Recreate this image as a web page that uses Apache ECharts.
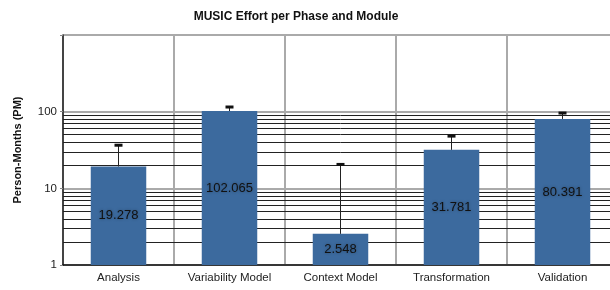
<!DOCTYPE html>
<html>
<head>
<meta charset="utf-8">
<script src="https://cdn.jsdelivr.net/npm/echarts@6/dist/echarts.min.js"></script>
<style>
  html, body { margin: 0; padding: 0; background: #fff; overflow: hidden; }
  #main { width: 618px; height: 290px; }
</style>
</head>
<body>
<div id="main"></div>
<script>
var categories = ["Analysis", "Variability Model", "Context Model", "Transformation", "Validation"];
var effort = [19.278, 102.065, 2.548, 31.781, 80.391];
var errorUpper = [36.5, 115, 20.5, 48, 96];
var minorGrid = [2, 3, 4, 5, 6, 7, 8, 9, 20, 30, 40, 50, 60, 70, 80, 90];

var font = '"Liberation Sans", Arial, Helvetica, sans-serif';

// the plot runs a little past the right edge of the window, as in the reference
var chart = echarts.init(document.getElementById("main"));

var option = {
  animation: false,
  textStyle: { fontFamily: font },
  title: {
    text: "MUSIC Effort per Phase and Module",
    left: 291,
    textAlign: "center",
    top: 6,
    textStyle: { fontFamily: font, fontSize: 12, fontWeight: "bold", color: "#111" },
  },
  grid: {
    left: 63,
    top: 35,
    bottom: 25,
    right: 0,
  },
  xAxis: {
    type: "category",
    data: categories,
    axisLine: { show: true, lineStyle: { color: "#111", width: 1.5 } },
    axisTick: { show: false },
    axisLabel: { color: "#222", fontSize: 11.5, margin: 7, fontFamily: font },
    splitLine: { show: true, lineStyle: { color: "#aaa", width: 2 } },
  },
  yAxis: {
    type: "log",
    logBase: 10,
    min: 1,
    max: 1000,
    name: "Person-Months (PM)",
    nameLocation: "middle",
    nameGap: 40,
    nameTextStyle: { fontSize: 11, fontWeight: "bold", color: "#111", fontFamily: font },
    axisLine: { show: true, lineStyle: { color: "#222", width: 1.5 } },
    axisTick: { show: true, length: 3, lineStyle: { color: "#888" } },
    axisLabel: {
      color: "#222",
      fontSize: 11.5,
      margin: 6,
      fontFamily: font,
      formatter: function (v) {
        return v >= 1000 ? "" : String(v);
      },
    },
    splitLine: { show: true, lineStyle: { color: "#aaa", width: 2 } },
  },
  series: [
    {
      type: "bar",
      data: effort,
      barWidth: "50%",
      z: 3,
      itemStyle: { color: "#3c6a9e" },
      label: {
        show: true,
        position: "inside",
        color: "#111",
        fontSize: 13,
        fontFamily: font,
        textShadowColor: "rgba(0,0,0,0.35)",
        textShadowBlur: 3,
        formatter: function (p) {
          return p.value.toFixed(3);
        },
      },
      markLine: {
        silent: true,
        symbol: "none",
        z: 1,
        label: { show: false },
        lineStyle: { color: "#222", width: 1, type: "solid" },
        data: minorGrid.map(function (v) {
          return { yAxis: v };
        }),
      },
    },
    {
      type: "custom",
      z: 4,
      data: effort.map(function (v, i) {
        return [i, v, errorUpper[i]];
      }),
      renderItem: function (params, api) {
        var base = api.coord([api.value(0), api.value(1)]);
        var top = api.coord([api.value(0), api.value(2)]);
        return {
          type: "group",
          children: [
            {
              type: "line",
              shape: { x1: base[0], y1: base[1], x2: top[0], y2: top[1] },
              style: { stroke: "#222", lineWidth: 1 },
            },
            {
              type: "line",
              shape: { x1: top[0] - 4, y1: top[1], x2: top[0] + 4, y2: top[1] },
              style: { stroke: "#111", lineWidth: 3 },
            },
          ],
        };
      },
    },
  ],
};

chart.setOption(option);
</script>
</body>
</html>
